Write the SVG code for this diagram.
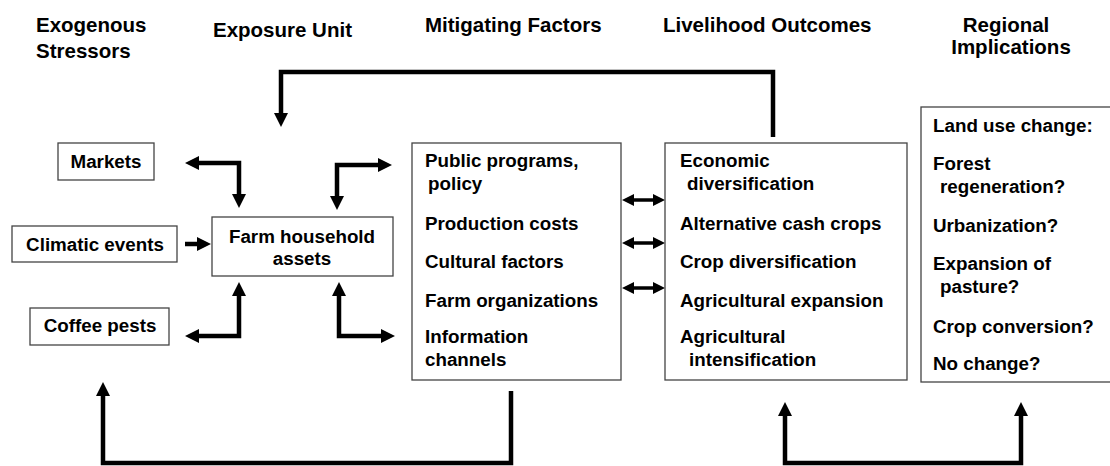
<svg xmlns="http://www.w3.org/2000/svg" width="1110" height="466" viewBox="0 0 1110 466">
<style>
text{font-family:"Liberation Sans",Arial,sans-serif;font-weight:bold;fill:#000}
.t{font-size:20.5px}
.b{font-size:18.8px}
.c{text-anchor:middle}
.box{fill:#fff;stroke:#444;stroke-width:1.3}
.k{fill:none;stroke:#000;stroke-width:4.5;stroke-linejoin:miter}
.d{fill:none;stroke:#000;stroke-width:3.5}
</style>
<defs>
<marker id="ah" markerUnits="userSpaceOnUse" markerWidth="14" markerHeight="14" refX="2" refY="7" orient="auto-start-reverse" viewBox="0 0 14 14">
<path d="M0,0 L14,7 L0,14 z" fill="#000"/>
</marker>
<marker id="as" markerUnits="userSpaceOnUse" markerWidth="12" markerHeight="12" refX="2" refY="6" orient="auto-start-reverse" viewBox="0 0 12 12">
<path d="M0,0 L12,6 L0,12 z" fill="#000"/>
</marker>
</defs>
<rect width="1110" height="466" fill="#fff"/>

<g id="titles">
<text class="t" x="36" y="32">Exogenous</text>
<text class="t" x="36" y="58">Stressors</text>
<text class="t" x="213" y="37">Exposure Unit</text>
<text class="t" x="425" y="32">Mitigating Factors</text>
<text class="t" x="663" y="32">Livelihood Outcomes</text>
<text class="t c" x="1006" y="32">Regional</text>
<text class="t c" x="1011" y="54">Implications</text>
</g>

<g id="connectors">
<path class="k" d="M773,137 V72 H281 V115" marker-end="url(#ah)"/>
<path class="k" d="M197,163 H239 V196" marker-start="url(#ah)" marker-end="url(#ah)"/>
<path class="k" d="M337,198 V165 H380" marker-start="url(#ah)" marker-end="url(#ah)"/>
<path class="k" d="M185,244 H199" marker-end="url(#ah)"/>
<path class="k" d="M239,294 V336 H197" marker-start="url(#ah)" marker-end="url(#ah)"/>
<path class="k" d="M339,294 V336 H383" marker-start="url(#ah)" marker-end="url(#ah)"/>
<path class="d" d="M632,200 H655" marker-start="url(#as)" marker-end="url(#as)"/>
<path class="d" d="M632,243 H655" marker-start="url(#as)" marker-end="url(#as)"/>
<path class="d" d="M632,288 H655" marker-start="url(#as)" marker-end="url(#as)"/>
<path class="k" d="M511,391 V463 H103 V394" marker-end="url(#ah)"/>
<path class="k" d="M785,414 V463 H1021 V414" marker-start="url(#ah)" marker-end="url(#ah)"/>
</g>

<g id="markets">
<rect class="box" x="58" y="143" width="96" height="37"/>
<text class="b c" x="106" y="168">Markets</text>
</g>
<g id="climatic">
<rect class="box" x="12" y="226" width="165" height="36"/>
<text class="b c" x="95" y="251">Climatic events</text>
</g>
<g id="coffee">
<rect class="box" x="30" y="308" width="139" height="37"/>
<text class="b c" x="100" y="332">Coffee pests</text>
</g>
<g id="farm">
<rect class="box" x="212" y="217" width="181" height="59"/>
<text class="b c" x="302" y="243">Farm household</text>
<text class="b c" x="302" y="265">assets</text>
</g>
<g id="mitigating">
<rect class="box" x="412" y="143" width="209" height="237"/>
<text class="b" x="425" y="167">Public programs,</text>
<text class="b" x="428" y="190">policy</text>
<text class="b" x="425" y="230">Production costs</text>
<text class="b" x="425" y="268">Cultural factors</text>
<text class="b" x="425" y="307">Farm organizations</text>
<text class="b" x="425" y="343">Information</text>
<text class="b" x="425" y="366">channels</text>
</g>
<g id="livelihood">
<rect class="box" x="665" y="143" width="242" height="237"/>
<text class="b" x="680" y="167">Economic</text>
<text class="b" x="687" y="190">diversification</text>
<text class="b" x="680" y="230">Alternative cash crops</text>
<text class="b" x="680" y="268">Crop diversification</text>
<text class="b" x="680" y="307">Agricultural expansion</text>
<text class="b" x="680" y="343">Agricultural</text>
<text class="b" x="689" y="366">intensification</text>
</g>
<g id="regional">
<rect class="box" x="921" y="107" width="195" height="275"/>
<text class="b" x="933" y="132">Land use change:</text>
<text class="b" x="933" y="170">Forest</text>
<text class="b" x="940" y="193">regeneration?</text>
<text class="b" x="933" y="232">Urbanization?</text>
<text class="b" x="933" y="270">Expansion of</text>
<text class="b" x="940" y="293">pasture?</text>
<text class="b" x="933" y="333">Crop conversion?</text>
<text class="b" x="933" y="370">No change?</text>
</g>
</svg>
